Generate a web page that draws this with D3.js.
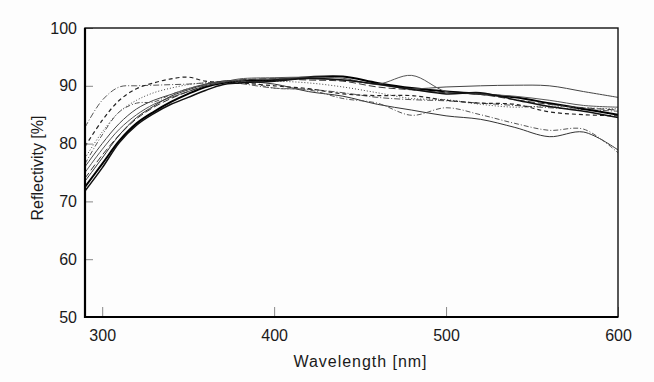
<!DOCTYPE html>
<html>
<head>
<meta charset="utf-8">
<script src="https://cdn.jsdelivr.net/npm/d3@7"></script>
<style>
  body { margin: 0; background: #fdfdfd; }
  text { font-family: "Liberation Sans", Arial, sans-serif; fill: #1a1a1a; }
</style>
</head>
<body>
<script>
// wavelengths the curves were read at (nm)
const wavelengths = [290, 300, 310, 320, 330, 340, 350, 360, 370, 380, 400, 420, 440, 460, 480, 500, 520, 540, 560, 580, 600];

// reflectivity (%) of each sample
const sampleA = [82.8, 87.5, 89.8, 90.0, 90.1, 90.2, 90.3, 90.5, 90.6, 90.4, 89.6, 89.4, 88.8, 88.0, 87.6, 87.4, 87.0, 86.6, 86.2, 85.9, 85.6];
const sampleB = [79.5, 84.0, 87.5, 89.5, 90.5, 91.2, 91.5, 90.8, 90.6, 90.5, 90.0, 89.5, 88.6, 88.3, 88.3, 87.5, 87.0, 86.8, 85.5, 85.0, 84.8];
const sampleC = [72.5, 76.5, 80.5, 83.5, 85.5, 87.2, 88.6, 89.8, 90.5, 90.8, 91.0, 91.5, 91.6, 90.5, 89.6, 89.0, 88.6, 88.0, 87.0, 86.0, 85.0];
const sampleD = [76.0, 80.0, 83.5, 86.0, 87.5, 88.5, 89.5, 90.3, 90.8, 91.0, 91.2, 91.2, 91.0, 90.2, 89.5, 89.8, 90.0, 90.1, 90.0, 89.0, 88.0];
const sampleE = [75.0, 79.0, 82.5, 85.0, 86.8, 88.0, 89.0, 90.0, 90.6, 91.2, 91.4, 91.5, 91.3, 90.3, 91.8, 89.0, 88.6, 88.2, 87.5, 86.6, 86.3];
const sampleF = [74.0, 78.0, 81.5, 84.3, 86.3, 87.8, 89.0, 90.0, 90.6, 91.0, 91.2, 91.0, 90.8, 89.8, 89.3, 88.8, 88.5, 87.6, 86.8, 86.2, 85.8];
const sampleG = [73.5, 77.5, 81.5, 84.5, 86.5, 88.2, 89.3, 90.2, 90.8, 90.8, 90.3, 89.0, 88.2, 86.8, 85.8, 84.8, 84.2, 82.8, 81.2, 82.0, 78.9];
const sampleH = [77.5, 82.0, 85.5, 87.5, 88.8, 89.6, 90.2, 90.5, 90.6, 90.7, 90.8, 90.5, 89.8, 88.8, 87.8, 87.6, 86.8, 86.3, 86.5, 86.2, 86.0];
const sampleI = [76.5, 81.5, 85.5, 87.0, 87.2, 88.5, 89.5, 90.2, 90.7, 90.9, 89.6, 89.3, 87.8, 87.0, 84.9, 86.2, 85.0, 83.5, 82.3, 82.5, 78.4];
const sampleJ = [71.8, 75.8, 80.2, 83.2, 85.2, 86.8, 88.0, 89.2, 90.2, 90.5, 90.8, 91.3, 91.0, 90.3, 89.4, 88.6, 88.8, 87.6, 86.4, 85.6, 84.5];

const xTicks = [300, 400, 500, 600];
const yTicks = [50, 60, 70, 80, 90, 100];

const samples = [sampleA, sampleB, sampleC, sampleD, sampleE, sampleF, sampleG, sampleH, sampleI, sampleJ];
const styles = [
    {dash: '6,2,1,2', color: '#555', w: 1},
    {dash: '4,3', color: '#222', w: 1.2},
    {dash: null, color: '#000', w: 2},
    {dash: null, color: '#444', w: 1},
    {dash: null, color: '#555', w: 1},
    {dash: '7,3', color: '#333', w: 1},
    {dash: null, color: '#333', w: 1},
    {dash: '1,2', color: '#444', w: 1},
    {dash: '5,2,1,2', color: '#555', w: 1},
    {dash: null, color: '#111', w: 1.5}
];

const width = 654, height = 382;
const plotLeft = 85, plotRight = 618, plotTop = 28, plotBottom = 317;

const svg = d3.select('body')
    .append('svg')
    .attr('width', width)
    .attr('height', height);

const xScale = d3.scaleLinear().domain([290, 600]).range([plotLeft, plotRight]);
const yScale = d3.scaleLinear().domain([50, 100]).range([plotBottom, plotTop]);

const line = d3.line()
    .x((d, i) => xScale(wavelengths[i]))
    .y(d => yScale(d))
    .curve(d3.curveCatmullRom.alpha(0.5));

svg.append('defs').append('clipPath').attr('id', 'plot')
    .append('rect')
    .attr('x', plotLeft).attr('y', plotTop)
    .attr('width', plotRight - plotLeft).attr('height', plotBottom - plotTop);

svg.append('g')
    .attr('clip-path', 'url(#plot)')
    .selectAll('path')
    .data(samples)
    .enter()
    .append('path')
    .attr('d', line)
    .attr('fill', 'none')
    .attr('stroke', (d, i) => styles[i].color)
    .attr('stroke-width', (d, i) => styles[i].w)
    .attr('stroke-dasharray', (d, i) => styles[i].dash);

// axes with inward ticks
const xAxis = d3.axisBottom(xScale).tickValues(xTicks).tickSize(-10).tickPadding(10);
const yAxis = d3.axisLeft(yScale).tickValues(yTicks).tickSize(-8).tickPadding(8);

const gx = svg.append('g')
    .attr('transform', 'translate(0,' + plotBottom + ')')
    .call(xAxis);
const gy = svg.append('g')
    .attr('transform', 'translate(' + plotLeft + ',0)')
    .call(yAxis);

[gx, gy].forEach(g => {
    g.select('.domain').remove();
    g.selectAll('line').attr('stroke', '#888');
    g.selectAll('text').attr('font-size', 16).style('fill', '#1a1a1a');
});
gx.selectAll('text').attr('dy', '0.85em');

// frame: top/right thinner, left/bottom heavier
svg.append('rect')
    .attr('x', plotLeft).attr('y', plotTop)
    .attr('width', plotRight - plotLeft).attr('height', plotBottom - plotTop)
    .attr('fill', 'none')
    .attr('stroke', '#111')
    .attr('stroke-width', 1.4);
svg.append('path')
    .attr('d', 'M' + plotLeft + ',' + plotTop + 'V' + plotBottom + 'H' + plotRight)
    .attr('fill', 'none')
    .attr('stroke', '#000')
    .attr('stroke-width', 2.2);

svg.append('text')
    .attr('x', 360)
    .attr('y', 367)
    .attr('text-anchor', 'middle')
    .attr('font-size', 16)
    .attr('textLength', 133)
    .attr('lengthAdjust', 'spacing')
    .text('Wavelength [nm]');

svg.append('text')
    .attr('transform', 'translate(43,168) rotate(-90)')
    .attr('text-anchor', 'middle')
    .attr('font-size', 16)
    .text('Reflectivity [%]');
</script>
</body>
</html>
